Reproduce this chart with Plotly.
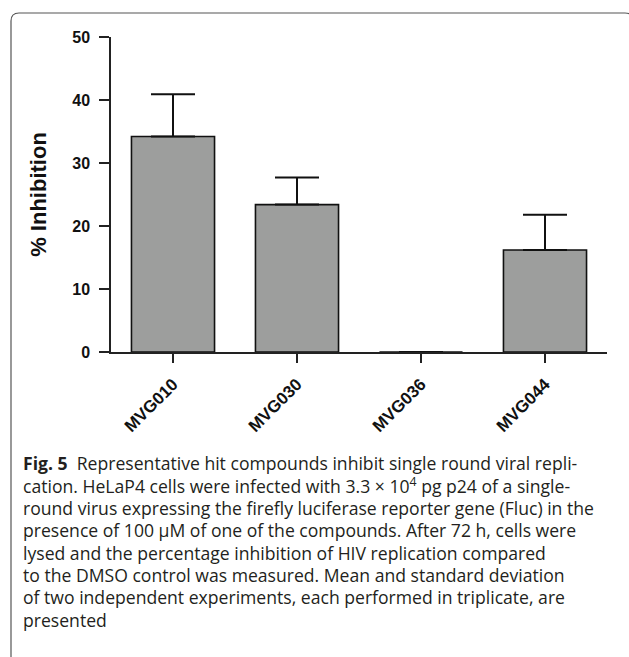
import plotly.graph_objects as go

# ---- data ----
compounds = ["MVG010", "MVG030", "MVG036", "MVG044"]
inhibition = [34.2, 23.4, 0.0, 16.2]
sd_upper = [6.7, 4.3, 0.0, 5.6]
y_ticks = [0, 10, 20, 30, 40, 50]

caption_lines = [
    "<b>Fig. 5</b>\u00a0\u00a0Representative hit compounds inhibit single round viral repli-",
    "cation. HeLaP4 cells were infected with 3.3 \u00d7 10<sup>4</sup> pg p24 of a single-",
    "round virus expressing the firefly luciferase reporter gene (Fluc) in the",
    "presence of 100 \u00b5M of one of the compounds. After 72 h, cells were",
    "lysed and the percentage inhibition of HIV replication compared",
    "to the DMSO control was measured. Mean and standard deviation",
    "of two independent experiments, each performed in triplicate, are",
    "presented",
]

W, H = 629, 657
L, R, T, B = 111, 22, 37, 305
pw, ph = W - L - R, H - T - B


def px_x(px):
    return (px - L) / pw


def px_y(py):
    return (H - B - py) / ph


fig = go.Figure()
fig.add_trace(go.Bar(
    x=compounds,
    y=inhibition,
    marker=dict(color="#9d9e9d", line=dict(color="#111111", width=1.6)),
    error_y=dict(type="data", symmetric=False, array=sd_upper,
                 arrayminus=[0] * len(sd_upper), color="#111111",
                 thickness=2, width=22),
    width=0.67,
))

bold_font = dict(family="Liberation Sans, Arial, sans-serif", size=16, color="#111111", weight="bold")

fig.update_layout(
    width=W, height=H,
    margin=dict(l=L, r=R, t=T, b=B),
    paper_bgcolor="white", plot_bgcolor="white",
    showlegend=False,
    font=dict(family="Liberation Sans, Arial, sans-serif", size=16, color="#111111"),
)
fig.update_xaxes(
    range=[-0.5, 3.5], showline=True, linecolor="#222222", linewidth=1.5,
    ticks="outside", ticklen=9, tickwidth=1.5, tickcolor="#222222",
    tickangle=-45, showgrid=False, zeroline=False, ticklabelstandoff=5,
    tickfont=dict(bold_font, size=17),
)
fig.update_yaxes(
    range=[0, 50], tickvals=y_ticks, showline=True, linecolor="#222222", linewidth=1.5,
    ticks="outside", ticklen=10, tickwidth=1.5, tickcolor="#222222",
    showgrid=False, zeroline=False, ticklabelstandoff=6,
    tickfont=bold_font,
    title=dict(text="% Inhibition", standoff=20,
               font=dict(bold_font, size=22)),
)

# frame with rounded top corners
x0, x1, yt, yb, r = 11, 633, 13, 660, 8
path = (f"M {px_x(x0)} {px_y(yb)} L {px_x(x0)} {px_y(yt + r)} "
        f"Q {px_x(x0)} {px_y(yt)} {px_x(x0 + r)} {px_y(yt)} "
        f"L {px_x(x1 - r)} {px_y(yt)} Q {px_x(x1)} {px_y(yt)} {px_x(x1)} {px_y(yt + r)} "
        f"L {px_x(x1)} {px_y(yb)}")
fig.add_shape(type="path", path=path, xref="paper", yref="paper",
              line=dict(color="#555555", width=1.2))

line_y0, line_dy = 463, 22.4
for i, txt in enumerate(caption_lines):
    fig.add_annotation(
        text=txt, xref="paper", yref="paper",
        x=px_x(21), y=px_y(line_y0 + i * line_dy),
        xanchor="left", yanchor="middle", showarrow=False,
        font=dict(family="Open Sans, sans-serif", size=17.6, color="#231f20"),
    )

fig.write_html("out.html")
